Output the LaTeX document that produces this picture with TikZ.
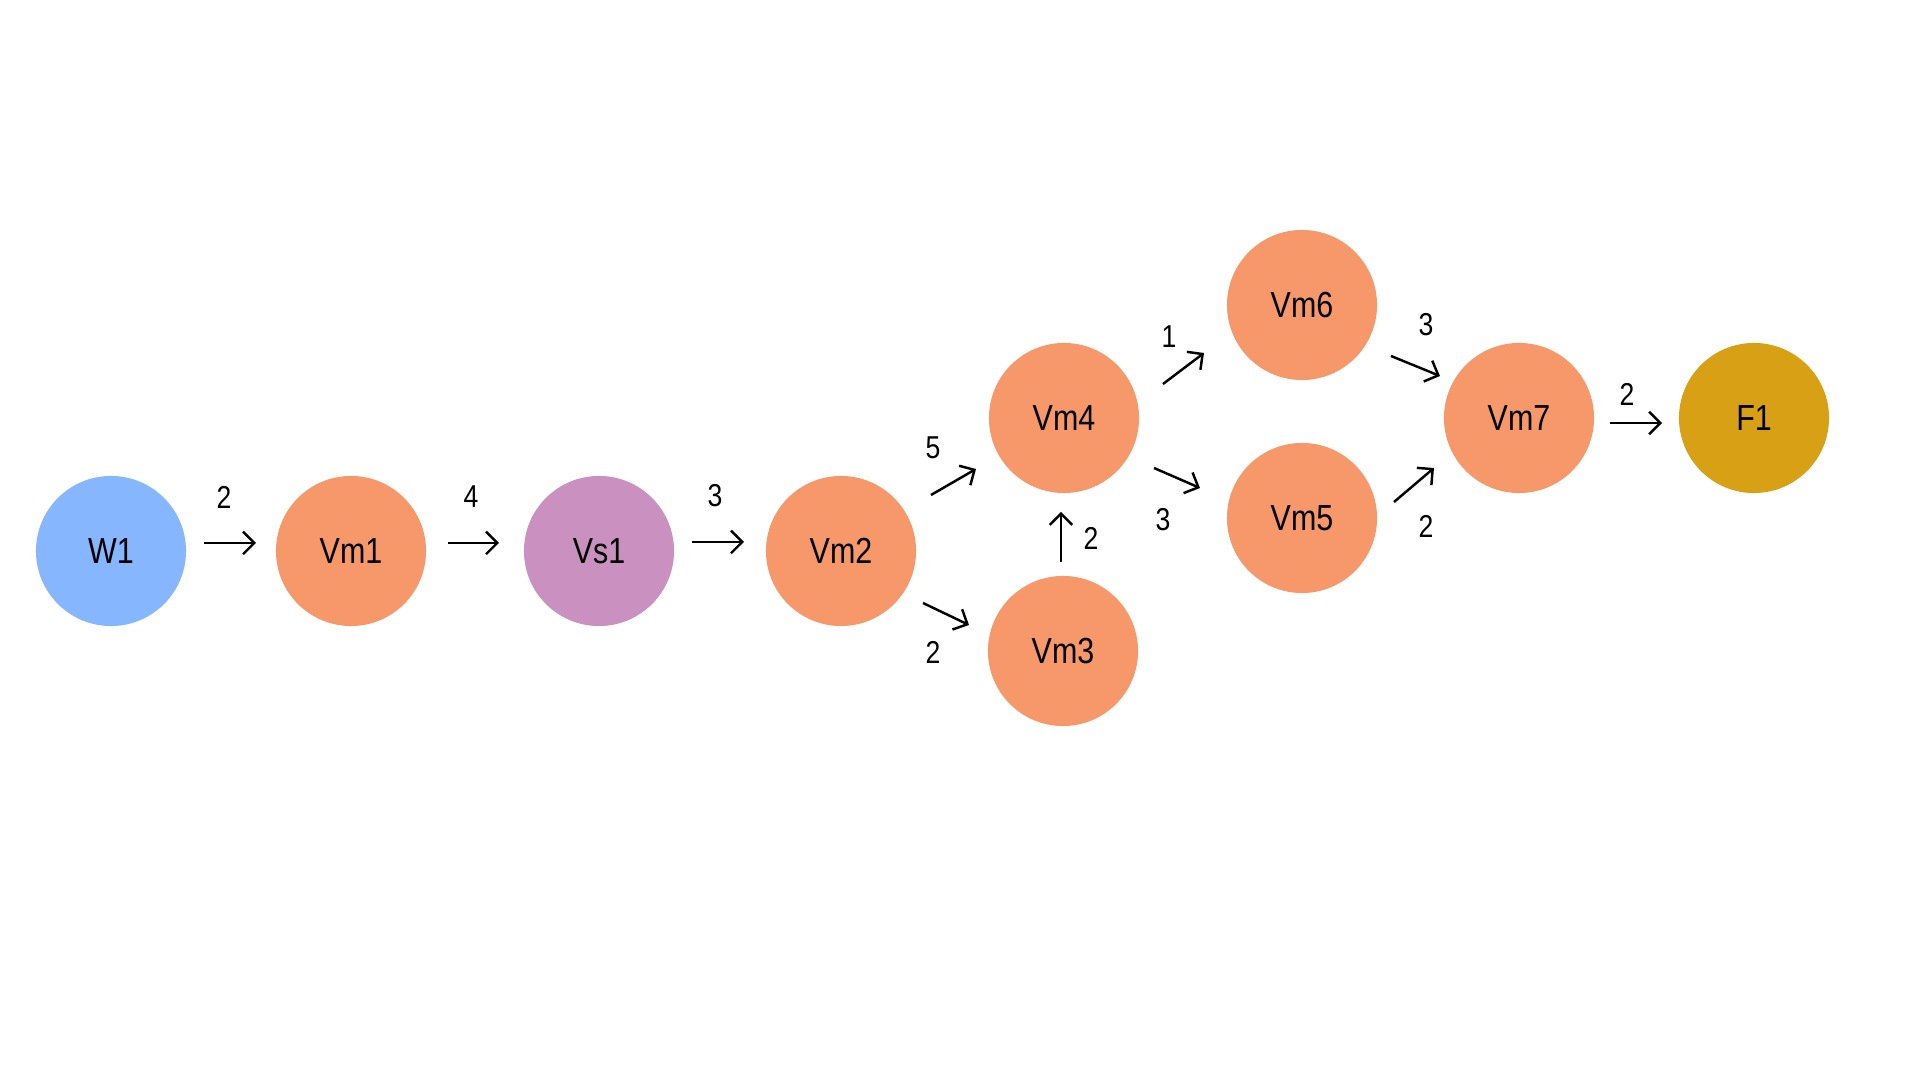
\documentclass[tikz,border=0pt]{standalone}
\usepackage{fontspec}
\setmainfont{Liberation Sans}[FakeStretch=0.84]
\usetikzlibrary{arrows.meta}
\definecolor{wblue}{HTML}{86B7FE}
\definecolor{vmorange}{HTML}{F6986A}
\definecolor{vspurple}{HTML}{CA90C0}
\definecolor{fgold}{HTML}{D7A015}
\begin{document}
\begin{tikzpicture}[x=0.01cm,y=-0.01cm,
  stage/.style={circle,minimum size=1.5cm,inner sep=0pt,text depth=0pt,font=\fontsize{10.3}{12}\selectfont},
  flow/.style={line width=0.7pt,-{Straight Barb[length=3.2pt,width=6.4pt,line width=0.7pt]}},
  wt/.style={font=\fontsize{9}{11}\selectfont}]
\fill[white] (0,0) rectangle (1920,1080);
\node[stage,fill=wblue] (W1) at (111,551) {W1};
\node[stage,fill=vmorange] (Vm1) at (351,551) {Vm1};
\node[stage,fill=vspurple] (Vs1) at (599,551) {Vs1};
\node[stage,fill=vmorange] (Vm2) at (841,551) {Vm2};
\node[stage,fill=vmorange] (Vm3) at (1063,651) {Vm3};
\node[stage,fill=vmorange] (Vm4) at (1064,418) {Vm4};
\node[stage,fill=vmorange] (Vm5) at (1302,518) {Vm5};
\node[stage,fill=vmorange] (Vm6) at (1302,305) {Vm6};
\node[stage,fill=vmorange] (Vm7) at (1519,418) {Vm7};
\node[stage,fill=fgold] (F1) at (1754,418) {F1};
\draw[flow] ([shift={(93,-8)}]W1.center) -- ([shift={(-95,-8)}]Vm1.center);
\draw[flow] ([shift={(97,-8)}]Vm1.center) -- ([shift={(-100,-8)}]Vs1.center);
\draw[flow] ([shift={(93,-9)}]Vs1.center) -- ([shift={(-97,-9)}]Vm2.center);
\draw[flow] ([shift={(90,-56)}]Vm2.center) -- ([shift={(-88,51)}]Vm4.center);
\draw[flow] ([shift={(82,52)}]Vm2.center) -- ([shift={(-94,-26)}]Vm3.center);
\draw[flow] ([shift={(-2,-89)}]Vm3.center) -- ([shift={(-3,94)}]Vm4.center);
\draw[flow] ([shift={(99,-34)}]Vm4.center) -- ([shift={(-98,48)}]Vm6.center);
\draw[flow] ([shift={(90,50)}]Vm4.center) -- ([shift={(-102,-30)}]Vm5.center);
\draw[flow] ([shift={(89,51)}]Vm6.center) -- ([shift={(-79,-42)}]Vm7.center);
\draw[flow] ([shift={(92,-16)}]Vm5.center) -- ([shift={(-85,50)}]Vm7.center);
\draw[flow] ([shift={(91,5)}]Vm7.center) -- ([shift={(-92,5)}]F1.center);
\node[wt] (l1) at (224,497) {2};
\node[wt] (l2) at (471,497) {4};
\node[wt] (l3) at (715,496) {3};
\node[wt] (l4) at (933,448) {5};
\node[wt] (l5) at (933,652) {2};
\node[wt] (l6) at (1091,538) {2};
\node[wt] (l7) at (1169,337) {1};
\node[wt] (l8) at (1163,520) {3};
\node[wt] (l9) at (1426,325) {3};
\node[wt] (l10) at (1426,526) {2};
\node[wt] (l11) at (1627,394) {2};
\end{tikzpicture}
\end{document}
